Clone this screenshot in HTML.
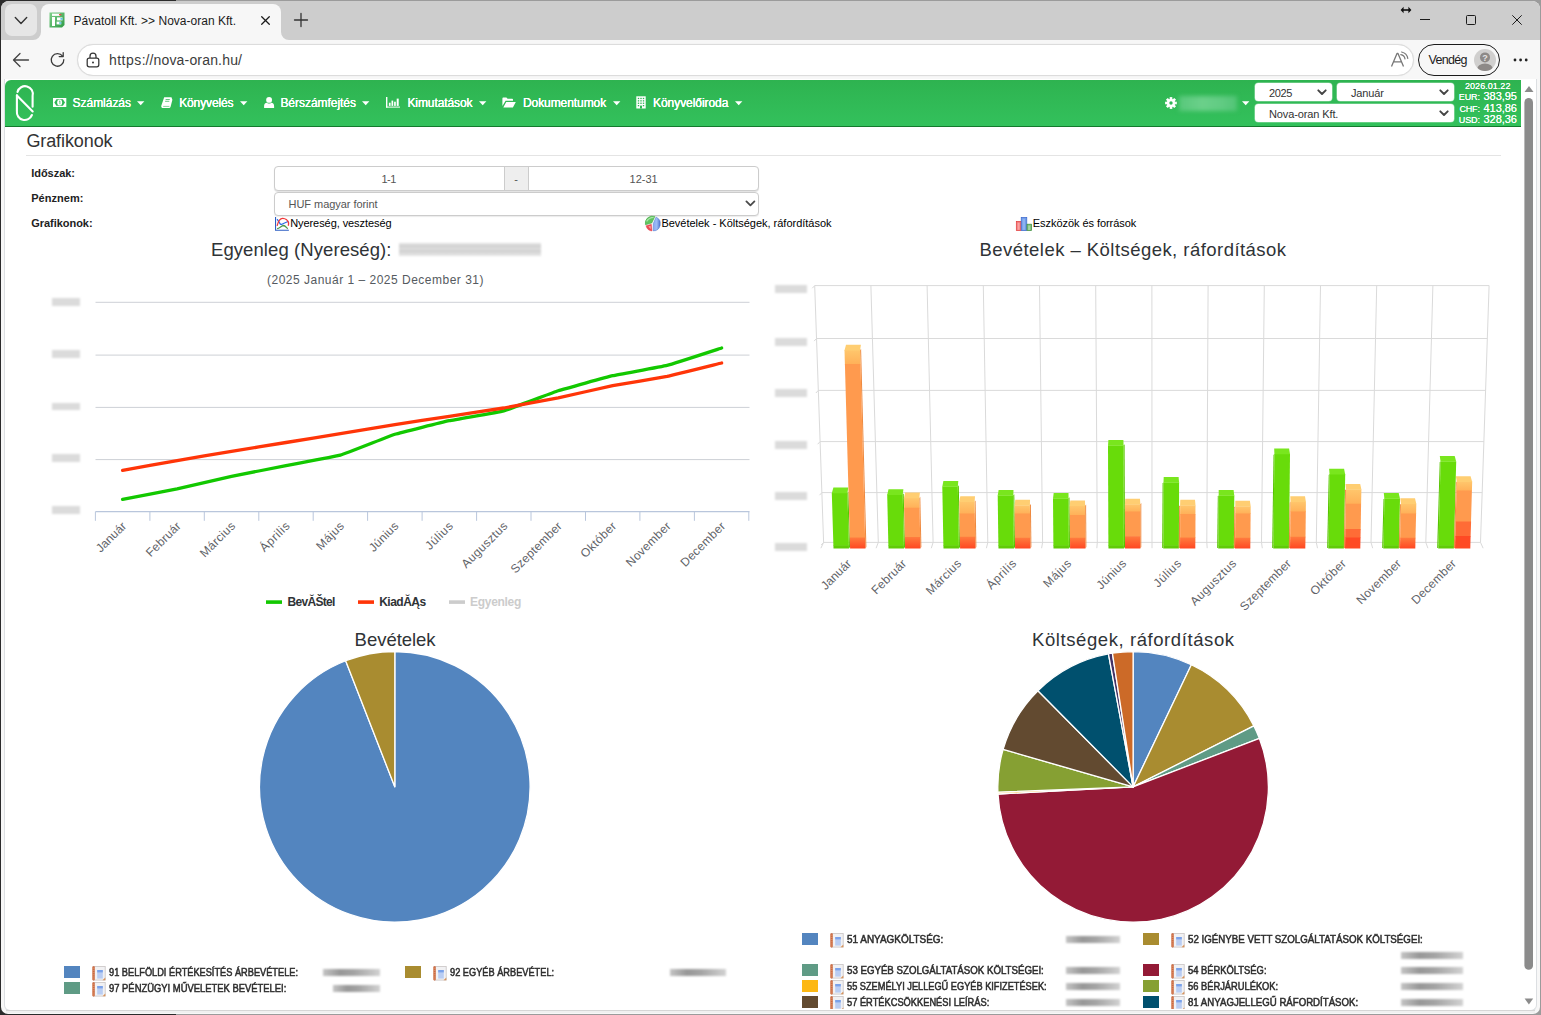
<!DOCTYPE html>
<html lang="hu"><head><meta charset="utf-8"><title>Pávatoll Kft. &gt;&gt; Nova-oran Kft.</title>
<style>
html,body{margin:0;padding:0;}
body{width:1541px;height:1015px;overflow:hidden;background:#fff;font-family:"Liberation Sans",sans-serif;position:relative;}
.abs{position:absolute;}
svg{position:absolute;overflow:visible;}
svg text{font-family:"Liberation Sans",sans-serif;}
.blur{position:absolute;filter:blur(1.2px);}
</style></head>
<body>
<!-- browser chrome -->
<div class="abs" style="left:0;top:0;width:1541px;height:1015px;background:#2b2b2b"></div>
<div class="abs" style="left:176px;top:0;width:1365px;height:1015px;background:#9b9b9b"></div>
<div class="abs" style="left:1px;top:1px;width:1539px;height:1013px;background:#f7f7f7;border-radius:8px 8px 7px 7px;overflow:hidden"><div class="abs" style="left:0;top:0;width:1539px;height:39px;background:#cdcdcd"></div></div>
<div class="abs" style="left:4px;top:79px;width:1533px;height:932px;background:#fff;border:1px solid #dcdfe2;border-top:none;border-radius:0 0 6px 6px;box-sizing:border-box"></div>
<div class="abs" style="left:6px;top:1010px;width:1529px;height:1px;background:#d6d6d6"></div>
<div class="abs" style="left:6px;top:1011px;width:1529px;height:2px;background:#f0f0f0"></div>
<div class="abs" style="left:5px;top:4px;width:32px;height:32px;background:#e6e6e6;border-radius:7px"></div>
<svg style="left:5px;top:4px" width="32" height="32"><path d="M10.3 13.6 L16 19.4 L21.7 13.6" fill="none" stroke="#333" stroke-width="1.4" stroke-linecap="round" stroke-linejoin="round"/></svg>
<div class="abs" style="left:41px;top:4px;width:240px;height:36px;background:#f7f7f7;border-radius:8px 8px 0 0"></div>
<svg style="left:33px;top:32px" width="8" height="8"><path d="M8 0 V8 H0 A8 8 0 0 0 8 0Z" fill="#f7f7f7"/></svg>
<svg style="left:281px;top:32px" width="8" height="8"><path d="M0 0 V8 H8 A8 8 0 0 1 0 0Z" fill="#f7f7f7"/></svg>
<svg style="left:49px;top:12px" width="16" height="16" viewBox="0 0 16 16"><defs><linearGradient id="fg" x1="0" y1="0" x2="1" y2="1"><stop offset="0" stop-color="#7fd08a"/><stop offset="1" stop-color="#2e9a45"/></linearGradient></defs><path d="M0.5 0.5 H15.5 V13 L13 15.5 H0.5Z" fill="url(#fg)"/><rect x="3" y="1.6" width="8" height="2.3" fill="#fff"/><rect x="3" y="5" width="3" height="9" fill="#fff"/><rect x="8" y="5.4" width="5.5" height="3" fill="#fff"/><rect x="7.6" y="9.6" width="4.6" height="2.8" fill="#fff"/><rect x="10" y="2" width="2.4" height="1.4" fill="#e0524a"/><rect x="11.4" y="6.2" width="2.2" height="1.4" fill="#3bb0e0"/><rect x="10.2" y="10.3" width="2.2" height="1.4" fill="#3bb0e0"/></svg>
<span style="position:absolute;white-space:pre;left:73.50px;top:14.94px;font-size:12px;line-height:12px;font-weight:400;color:#1b1b1b;letter-spacing:0.014px;">Pávatoll Kft. &gt;&gt; Nova-oran Kft.</span>
<svg style="left:259.5px;top:14.6px" width="11" height="11"><path d="M1.7 1.7 L9.3 9.3 M9.3 1.7 L1.7 9.3" stroke="#1b1b1b" stroke-width="1.25" stroke-linecap="round"/></svg>
<svg style="left:294px;top:13px" width="14" height="14"><path d="M7 0.5 V13.5 M0.5 7 H13.5" stroke="#333" stroke-width="1.3" stroke-linecap="round"/></svg>
<svg style="left:1400px;top:5px" width="12" height="10"><path d="M2.5 5 H9.5" stroke="#111" stroke-width="1.6"/><path d="M3.6 1.8 L0.6 5 L3.6 8.2Z M8.4 1.8 L11.4 5 L8.4 8.2Z" fill="#111"/></svg>
<div class="abs" style="left:1420px;top:19px;width:10px;height:1px;background:#1b1b1b"></div>
<div class="abs" style="left:1466px;top:15px;width:10px;height:10px;border:1px solid #1b1b1b;border-radius:1.5px;box-sizing:border-box"></div>
<svg style="left:1512px;top:15px" width="10" height="10"><path d="M0.3 0.3 L9.7 9.7 M9.7 0.3 L0.3 9.7" stroke="#1b1b1b" stroke-width="1"/></svg>
<svg style="left:12px;top:52px" width="18" height="16"><path d="M16.5 8 H1.8 M8 1.5 L1.5 8 L8 14.5" fill="none" stroke="#444" stroke-width="1.3" stroke-linecap="round" stroke-linejoin="round"/></svg>
<svg style="left:49px;top:51px" width="17" height="17"><path d="M13.6 5.2 A6.3 6.3 0 1 0 14.8 8.6" fill="none" stroke="#3a3a3a" stroke-width="1.3" stroke-linecap="round"/><path d="M14.2 1.6 V5.6 H10.2" fill="none" stroke="#3a3a3a" stroke-width="1.3" stroke-linecap="round" stroke-linejoin="round"/></svg>
<div class="abs" style="left:77px;top:44px;width:1337px;height:32px;background:#fff;border:1px solid #dcdcdc;border-radius:16px;box-sizing:border-box;box-shadow:0 0 1px rgba(0,0,0,.12)"></div>
<svg style="left:86px;top:52px" width="14" height="16"><rect x="1.2" y="6.2" width="11.6" height="8.6" rx="2" fill="none" stroke="#333" stroke-width="1.25"/><path d="M4 6 V4.2 A3 3 0 0 1 10 4.2 V6" fill="none" stroke="#333" stroke-width="1.25"/><circle cx="7" cy="10.5" r="1" fill="#333"/></svg>
<span style="position:absolute;white-space:pre;left:109.00px;top:53.15px;font-size:14px;line-height:14px;font-weight:400;color:#3c3c3c;letter-spacing:0.470px;">https:</span>
<span style="position:absolute;white-space:pre;left:145.60px;top:53.15px;font-size:14px;line-height:14px;font-weight:400;color:#3c3c3c;letter-spacing:0.119px;">//</span>
<span style="position:absolute;white-space:pre;left:153.50px;top:53.15px;font-size:14px;line-height:14px;font-weight:400;color:#3c3c3c;letter-spacing:0.174px;">nova-oran.hu/</span>
<svg style="left:1390px;top:50px" width="20" height="20"><path d="M1.5 16.5 L7 3.5 H8 L13.5 16.5 M3.6 11.8 H11.4" fill="none" stroke="#777" stroke-width="1.3" stroke-linejoin="round"/><path d="M10.8 4.6 A5 5 0 0 1 15 8.8 M11.6 2 A8 8 0 0 1 17.8 8.4" fill="none" stroke="#777" stroke-width="1.2" stroke-linecap="round"/></svg>
<div class="abs" style="left:1418px;top:44px;width:82px;height:32px;border:1.6px solid #1b1b1b;border-radius:16px;box-sizing:border-box;background:#f7f7f7"></div>
<span style="position:absolute;white-space:pre;left:1428.50px;top:53.92px;font-size:12.5px;line-height:12.5px;font-weight:400;color:#1b1b1b;letter-spacing:-0.684px;">Vendég</span>
<svg style="left:1474px;top:49px" width="22" height="22"><defs><clipPath id="av"><circle cx="11" cy="11" r="11"/></clipPath></defs><circle cx="11" cy="11" r="11" fill="#d0cfce"/><g clip-path="url(#av)"><circle cx="11" cy="8.4" r="5" fill="#8d8987"/><ellipse cx="11" cy="21" rx="8.2" ry="6.6" fill="#8d8987"/></g><text x="11" y="12" font-size="9" font-weight="700" text-anchor="middle" fill="#e4e3e2">?</text></svg>
<svg style="left:1513px;top:58px" width="16" height="4"><circle cx="2" cy="2" r="1.4" fill="#222"/><circle cx="7.6" cy="2" r="1.4" fill="#222"/><circle cx="13.2" cy="2" r="1.4" fill="#222"/></svg>
<svg style="left:1521px;top:80px" width="16" height="930"><path d="M3.5 9.5 L8 3.5 L12.5 9.5Z" fill="#8b8b8b" transform="translate(0,2.4)"/><rect x="3.4" y="18.1" width="8.6" height="871.6" rx="4.3" fill="#8b8b8b"/><path d="M3.6 918.5 L12.2 918.5 L7.9 924.5Z" fill="#8b8b8b"/></svg>
<!-- navbar -->
<div class="abs" style="left:5px;top:80px;width:1516px;height:47px;box-sizing:border-box;background:linear-gradient(#2eb350,#33c15c);border-bottom:1.5px solid #137a2d;border-radius:6px 0 0 0"></div>
<svg style="left:0;top:0" width="60" height="130"><g fill="none" stroke="#fff" stroke-width="2.1" stroke-linecap="round"><path d="M17.5 92 A7.8 7.8 0 0 1 32.6 96 V106.8"/><path d="M16.9 95.4 L32.7 111.4"/><path d="M16.9 95.4 V111.2 A7.8 7.8 0 0 0 31.9 115"/></g></svg>
<svg style="left:52.6px;top:98px" width="14" height="9" viewBox="0 0 14 9"><rect x="0" y="0" width="13.3" height="9" fill="#fff"/><path d="M1.3 4.5 L3.4 1.3 H9.9 L12 4.5 L9.9 7.7 H3.4Z" fill="#2fb755"/><ellipse cx="6.65" cy="4.5" rx="2.5" ry="3" fill="#fff"/><path d="M6.1 3.4 L6.9 2.9 V6.2" stroke="#2fb755" stroke-width="0.75" fill="none"/></svg>
<span style="position:absolute;white-space:pre;left:72.60px;top:97.24px;font-size:12px;line-height:12px;font-weight:400;color:#fff;letter-spacing:-0.036px;text-shadow:0 0 0.6px #fff,0 0 0.6px #fff;">Számlázás</span>
<svg style="left:136.6px;top:101px" width="8" height="5"><path d="M0 0.2 H7.4 L3.7 4.2Z" fill="#fff"/></svg>
<svg style="left:160.6px;top:97px" width="12" height="11" viewBox="0 0 12 11"><path d="M3.2 0.2 H10.2 Q10.9 0.2 10.7 1 L11.4 2.8 L9.6 9.8 Q9.4 10.9 8.4 10.9 H1.2 Q-0.2 10.4 0.3 8.8 Z" fill="#fff"/><path d="M4.6 2.5 H8.8 M4.1 4.3 H8.3" stroke="#2fb755" stroke-width="0.75"/><path d="M2.2 9.4 H8.4" stroke="#2fb755" stroke-width="0.6"/></svg>
<span style="position:absolute;white-space:pre;left:179.20px;top:97.24px;font-size:12px;line-height:12px;font-weight:400;color:#fff;letter-spacing:-0.122px;text-shadow:0 0 0.6px #fff,0 0 0.6px #fff;">Könyvelés</span>
<svg style="left:239.6px;top:101px" width="8" height="5"><path d="M0 0.2 H7.4 L3.7 4.2Z" fill="#fff"/></svg>
<svg style="left:264px;top:97px" width="11" height="11" viewBox="0 0 11 11"><circle cx="5.1" cy="2.9" r="2.95" fill="#fff"/><path d="M0.1 10.9 V8.9 C0.1 6.6 1.5 5.9 2.9 5.7 C4.3 6.9 5.9 6.9 7.3 5.7 C8.7 5.9 10.1 6.6 10.1 8.9 V10.9Z" fill="#fff"/></svg>
<span style="position:absolute;white-space:pre;left:280.40px;top:97.24px;font-size:12px;line-height:12px;font-weight:400;color:#fff;letter-spacing:-0.036px;text-shadow:0 0 0.6px #fff,0 0 0.6px #fff;">Bérszámfejtés</span>
<svg style="left:362px;top:101px" width="8" height="5"><path d="M0 0.2 H7.4 L3.7 4.2Z" fill="#fff"/></svg>
<svg style="left:386px;top:97.3px" width="14" height="11" viewBox="0 0 14 11"><rect x="0" y="0" width="1.4" height="10.6" fill="#fff"/><rect x="0" y="9.6" width="14" height="1" fill="#fff"/><rect x="2.9" y="5.7" width="1.7" height="3.2" fill="#fff"/><rect x="5.5" y="3.6" width="1.7" height="5.3" fill="#fff"/><rect x="8.1" y="4.7" width="1.7" height="4.2" fill="#fff"/><rect x="10.7" y="1.6" width="2" height="7.3" fill="#fff"/></svg>
<span style="position:absolute;white-space:pre;left:407.40px;top:97.24px;font-size:12px;line-height:12px;font-weight:400;color:#fff;letter-spacing:-0.083px;text-shadow:0 0 0.6px #fff,0 0 0.6px #fff;">Kimutatások</span>
<svg style="left:478.6px;top:101px" width="8" height="5"><path d="M0 0.2 H7.4 L3.7 4.2Z" fill="#fff"/></svg>
<svg style="left:502px;top:97px" width="14" height="11" viewBox="0 0 14 11"><path d="M0.4 9 V1.4 Q0.4 0.5 1.3 0.5 H4.4 L5.6 1.8 H10.2 Q11 1.8 11 2.7 V3.8 H3.6 L0.4 9Z" fill="#fff"/><path d="M1.3 10.4 L4.2 4.9 H13.8 L10.9 10.4Z" fill="#fff"/></svg>
<span style="position:absolute;white-space:pre;left:523.00px;top:97.24px;font-size:12px;line-height:12px;font-weight:400;color:#fff;letter-spacing:-0.077px;text-shadow:0 0 0.6px #fff,0 0 0.6px #fff;">Dokumentumok</span>
<svg style="left:612.6px;top:101px" width="8" height="5"><path d="M0 0.2 H7.4 L3.7 4.2Z" fill="#fff"/></svg>
<svg style="left:636px;top:96px" width="10" height="13" viewBox="0 0 10 13"><rect x="0.3" y="0.3" width="9.4" height="12.2" fill="#fff"/><g fill="#2fb755"><rect x="1.8" y="1.8" width="1.4" height="1.3"/><rect x="4.3" y="1.8" width="1.4" height="1.3"/><rect x="6.8" y="1.8" width="1.4" height="1.3"/><rect x="1.8" y="4.2" width="1.4" height="1.3"/><rect x="4.3" y="4.2" width="1.4" height="1.3"/><rect x="6.8" y="4.2" width="1.4" height="1.3"/><rect x="1.8" y="6.6" width="1.4" height="1.3"/><rect x="4.3" y="6.6" width="1.4" height="1.3"/><rect x="6.8" y="6.6" width="1.4" height="1.3"/><rect x="1.8" y="9" width="1.4" height="1.3"/><rect x="6.8" y="9" width="1.4" height="1.3"/><rect x="4" y="9.6" width="2" height="2.9"/></g></svg>
<span style="position:absolute;white-space:pre;left:653.00px;top:97.24px;font-size:12px;line-height:12px;font-weight:400;color:#fff;letter-spacing:-0.055px;text-shadow:0 0 0.6px #fff,0 0 0.6px #fff;">Könyvelőiroda</span>
<svg style="left:734.6px;top:101px" width="8" height="5"><path d="M0 0.2 H7.4 L3.7 4.2Z" fill="#fff"/></svg>
<svg style="left:1165px;top:97px" width="12" height="12" viewBox="0 0 12 12"><g transform="translate(6,6)"><g fill="#fff"><rect x="-1.3" y="-5.9" width="2.6" height="3" transform="rotate(0)"/><rect x="-1.3" y="-5.9" width="2.6" height="3" transform="rotate(45)"/><rect x="-1.3" y="-5.9" width="2.6" height="3" transform="rotate(90)"/><rect x="-1.3" y="-5.9" width="2.6" height="3" transform="rotate(135)"/><rect x="-1.3" y="-5.9" width="2.6" height="3" transform="rotate(180)"/><rect x="-1.3" y="-5.9" width="2.6" height="3" transform="rotate(225)"/><rect x="-1.3" y="-5.9" width="2.6" height="3" transform="rotate(270)"/><rect x="-1.3" y="-5.9" width="2.6" height="3" transform="rotate(315)"/><circle r="4.1"/></g><circle r="1.7" fill="#2fb755"/></g></svg>
<div class="blur" style="left:1179px;top:95.5px;width:58px;height:15px;background:linear-gradient(90deg,#58c87b,#6bd08a 40%,#60cb82 75%,#52c476);filter:blur(2.2px)"></div>
<svg style="left:1241.5px;top:101px" width="8" height="5"><path d="M0 0.2 H7.4 L3.7 4.2Z" fill="#fff"/></svg>
<div class="abs" style="left:1254.5px;top:83.4px;width:77.5px;height:17.2px;background:#fff;border-radius:3.5px;box-shadow:0 0 0 0.6px rgba(255,255,255,.5)"></div><svg style="left:1317.4px;top:89.1px" width="10" height="7"><path d="M1.3 1.3 L5 5 L8.7 1.3" fill="none" stroke="#444" stroke-width="1.9" stroke-linecap="round" stroke-linejoin="round"/></svg>
<span style="position:absolute;white-space:pre;left:1269.00px;top:87.99px;font-size:11px;line-height:11px;font-weight:400;color:#333;letter-spacing:-0.361px;">2025</span>
<div class="abs" style="left:1336.5px;top:83.4px;width:117px;height:17.2px;background:#fff;border-radius:3.5px;box-shadow:0 0 0 0.6px rgba(255,255,255,.5)"></div><svg style="left:1438.9px;top:89.1px" width="10" height="7"><path d="M1.3 1.3 L5 5 L8.7 1.3" fill="none" stroke="#444" stroke-width="1.9" stroke-linecap="round" stroke-linejoin="round"/></svg>
<span style="position:absolute;white-space:pre;left:1351.00px;top:87.99px;font-size:11px;line-height:11px;font-weight:400;color:#333;letter-spacing:-0.128px;">Január</span>
<div class="abs" style="left:1254.5px;top:104.2px;width:199px;height:17.6px;background:#fff;border-radius:3.5px;box-shadow:0 0 0 0.6px rgba(255,255,255,.5)"></div><svg style="left:1438.9px;top:110.1px" width="10" height="7"><path d="M1.3 1.3 L5 5 L8.7 1.3" fill="none" stroke="#444" stroke-width="1.9" stroke-linecap="round" stroke-linejoin="round"/></svg>
<span style="position:absolute;white-space:pre;left:1269.00px;top:109.09px;font-size:11px;line-height:11px;font-weight:400;color:#333;letter-spacing:-0.117px;">Nova-oran Kft.</span>
<span style="position:absolute;white-space:pre;left:1465.00px;top:81.88px;font-size:9px;line-height:9px;font-weight:400;color:#fff;letter-spacing:0.039px;text-shadow:0 0 0.6px #fff;">2026.01.22</span>
<span style="position:absolute;white-space:pre;left:1458.80px;top:92.88px;font-size:9px;line-height:9px;font-weight:400;color:#fff;letter-spacing:-0.105px;text-shadow:0 0 0.6px #fff;">EUR:</span>
<span style="position:absolute;white-space:pre;left:1483.50px;top:91.19px;font-size:11px;line-height:11px;font-weight:400;color:#fff;letter-spacing:-0.031px;text-shadow:0 0 0.6px #fff;">383,95</span>
<span style="position:absolute;white-space:pre;left:1459.40px;top:104.78px;font-size:9px;line-height:9px;font-weight:400;color:#fff;letter-spacing:-0.133px;text-shadow:0 0 0.6px #fff;">CHF:</span>
<span style="position:absolute;white-space:pre;left:1483.50px;top:103.09px;font-size:11px;line-height:11px;font-weight:400;color:#fff;letter-spacing:-0.031px;text-shadow:0 0 0.6px #fff;">413,86</span>
<span style="position:absolute;white-space:pre;left:1458.80px;top:115.88px;font-size:9px;line-height:9px;font-weight:400;color:#fff;letter-spacing:-0.105px;text-shadow:0 0 0.6px #fff;">USD:</span>
<span style="position:absolute;white-space:pre;left:1483.50px;top:114.19px;font-size:11px;line-height:11px;font-weight:400;color:#fff;letter-spacing:-0.031px;text-shadow:0 0 0.6px #fff;">328,36</span>
<!-- heading + form -->
<span style="position:absolute;white-space:pre;left:26.40px;top:132.16px;font-size:18px;line-height:18px;font-weight:400;color:#333;letter-spacing:-0.094px;">Grafikonok</span>
<div class="abs" style="left:26px;top:155px;width:1475px;height:1px;background:#e4e4e4"></div>
<span style="position:absolute;white-space:pre;left:31.20px;top:168.09px;font-size:11px;line-height:11px;font-weight:700;color:#222;letter-spacing:-0.031px;">Időszak:</span>
<span style="position:absolute;white-space:pre;left:31.20px;top:192.69px;font-size:11px;line-height:11px;font-weight:700;color:#222;letter-spacing:0.033px;">Pénznem:</span>
<span style="position:absolute;white-space:pre;left:31.20px;top:218.19px;font-size:11px;line-height:11px;font-weight:700;color:#222;letter-spacing:-0.033px;">Grafikonok:</span>
<div class="abs" style="left:274px;top:166px;width:485px;height:25px;box-sizing:border-box;border:1px solid #ccc;border-radius:4px;background:#fff;box-shadow:0 1px 1px rgba(0,0,0,.12)"></div>
<div class="abs" style="left:503.5px;top:167px;width:25px;height:23px;box-sizing:border-box;background:#eee;border-left:1px solid #ccc;border-right:1px solid #ccc"></div>
<span style="position:absolute;white-space:pre;left:381.40px;top:174.29px;font-size:11px;line-height:11px;font-weight:400;color:#555;letter-spacing:-0.453px;">1-1</span>
<span style="position:absolute;white-space:pre;left:514.20px;top:174.29px;font-size:11px;line-height:11px;font-weight:400;color:#555;">-</span>
<span style="position:absolute;white-space:pre;left:629.60px;top:174.29px;font-size:11px;line-height:11px;font-weight:400;color:#555;letter-spacing:-0.035px;">12-31</span>
<div class="abs" style="left:274px;top:192px;width:485px;height:24px;box-sizing:border-box;border:1px solid #ccc;border-radius:4px;background:#fff;box-shadow:0 1px 1px rgba(0,0,0,.08)"></div>
<svg style="left:745px;top:199.6px" width="11" height="8"><path d="M1.4 1.4 L5.4 5.4 L9.4 1.4" fill="none" stroke="#4a4a4a" stroke-width="1.8" stroke-linecap="round" stroke-linejoin="round"/></svg>
<span style="position:absolute;white-space:pre;left:288.60px;top:199.09px;font-size:11px;line-height:11px;font-weight:400;color:#555;letter-spacing:-0.054px;">HUF magyar forint</span>
<svg style="left:275px;top:217px" width="15" height="14" viewBox="0 0 15 14"><path d="M0.55 0 V13.3 H13.9" fill="none" stroke="#2e5fc4" stroke-width="1.1"/><path d="M2.1 2.1 L5.4 7.2 Q6.3 7.8 7.4 7 L13.5 4.3" fill="none" stroke="#2f6ee6" stroke-width="1.2"/><path d="M2.1 8.8 C3.5 3 6 1.2 7.8 1.3 C10 1.4 13 3 13.6 6 L13.4 8.8" fill="none" stroke="#f0383a" stroke-width="1.3"/><path d="M2.1 11.7 C4.5 11.5 6.5 8.6 8.4 8.5 C10.3 8.6 11.2 10.5 12.7 11.7" fill="none" stroke="#4e9a4a" stroke-width="1.3"/></svg>
<span style="position:absolute;white-space:pre;left:290.20px;top:217.79px;font-size:11px;line-height:11px;font-weight:400;color:#000;letter-spacing:-0.073px;">Nyereség, veszteség</span>
<svg style="left:645px;top:216px" width="16" height="16" viewBox="0 0 16 16"><defs><linearGradient id="pb" x1="0" y1="0" x2="1" y2="0"><stop offset="0" stop-color="#86aaf2"/><stop offset="0.5" stop-color="#9cbcf6"/><stop offset="1" stop-color="#4a70cc"/></linearGradient></defs><path d="M6.8 7 L0.4 8.8 A7.2 7.2 0 0 1 9.9 0.5 Z" fill="#5fc45f" stroke="#3fa03f" stroke-width="0.5"/><path d="M1.6 5.4 Q4 1.6 8.6 1.4" stroke="#a8e4a8" stroke-width="1.3" fill="none"/><path d="M6.4 8.3 L7 15 A7 7 0 0 1 1 9.8 Z" fill="#ee4d55" stroke="#e03040" stroke-width="0.4"/><path d="M3.4 10.4 L5.6 9.8 L5.9 13.2Z" fill="#f7a0a4"/><path d="M8.2 7.7 L11 1.1 A7.2 7.2 0 0 1 8.2 14.9 Z" fill="url(#pb)" stroke="#4468c0" stroke-width="0.4"/></svg>
<span style="position:absolute;white-space:pre;left:661.40px;top:217.79px;font-size:11px;line-height:11px;font-weight:400;color:#000;letter-spacing:-0.012px;">Bevételek - Költségek, ráfordítások</span>
<svg style="left:1016px;top:217px" width="16" height="14" viewBox="0 0 16 14"><rect x="0.3" y="4.4" width="4.8" height="9.2" fill="#f47a7a" stroke="#e03c3c" stroke-width="0.7"/><rect x="5.2" y="0.4" width="5.6" height="13.2" fill="#6f9cea" stroke="#3a66cc" stroke-width="0.7"/><rect x="11" y="7.2" width="4.6" height="6.4" fill="#7fc07f" stroke="#3c8c3c" stroke-width="0.7"/><rect x="1.6" y="5.8" width="2" height="7" fill="#f9a3a3"/><rect x="6.6" y="1.8" width="2.4" height="11" fill="#8db2f0"/><rect x="12.2" y="8.6" width="2" height="4.4" fill="#a5d5a5"/></svg>
<span style="position:absolute;white-space:pre;left:1032.80px;top:217.59px;font-size:11px;line-height:11px;font-weight:400;color:#000;letter-spacing:-0.060px;">Eszközök és források</span>
<!-- line chart -->
<svg style="left:0;top:235px" width="770" height="385" viewBox="0 235 770 385">
<text x="211" y="256" font-size="18.5" fill="#2f3336" textLength="180.5" lengthAdjust="spacing">Egyenleg (Nyereség):</text>
<text x="267" y="284" font-size="12" fill="#555a60" textLength="216.5" lengthAdjust="spacing">(2025 Január 1 – 2025 December 31)</text>
<path d="M95.5 302.3 H749.5" stroke="#cdd0d6" stroke-width="1" fill="none"/>
<path d="M95.5 355.1 H749.5" stroke="#cdd0d6" stroke-width="1" fill="none"/>
<path d="M95.5 407.4 H749.5" stroke="#cdd0d6" stroke-width="1" fill="none"/>
<path d="M95.5 459.6 H749.5" stroke="#cdd0d6" stroke-width="1" fill="none"/>
<path d="M95.5 511.6 H749.5" stroke="#b9c6dc" stroke-width="1.1" fill="none"/>
<path d="M95.4 511.6 V520.8" stroke="#b9c6dc" stroke-width="1" fill="none"/>
<path d="M149.9 511.6 V520.8" stroke="#b9c6dc" stroke-width="1" fill="none"/>
<path d="M204.3 511.6 V520.8" stroke="#b9c6dc" stroke-width="1" fill="none"/>
<path d="M258.8 511.6 V520.8" stroke="#b9c6dc" stroke-width="1" fill="none"/>
<path d="M313.2 511.6 V520.8" stroke="#b9c6dc" stroke-width="1" fill="none"/>
<path d="M367.6 511.6 V520.8" stroke="#b9c6dc" stroke-width="1" fill="none"/>
<path d="M422.1 511.6 V520.8" stroke="#b9c6dc" stroke-width="1" fill="none"/>
<path d="M476.6 511.6 V520.8" stroke="#b9c6dc" stroke-width="1" fill="none"/>
<path d="M531.0 511.6 V520.8" stroke="#b9c6dc" stroke-width="1" fill="none"/>
<path d="M585.5 511.6 V520.8" stroke="#b9c6dc" stroke-width="1" fill="none"/>
<path d="M639.9 511.6 V520.8" stroke="#b9c6dc" stroke-width="1" fill="none"/>
<path d="M694.4 511.6 V520.8" stroke="#b9c6dc" stroke-width="1" fill="none"/>
<path d="M748.8 511.6 V520.8" stroke="#b9c6dc" stroke-width="1" fill="none"/>
<path d="M122.6 499.4 C125.1 498.9 172.2 489.8 177.1 488.8 C182.0 487.8 226.6 477.4 231.5 476.4 C236.4 475.4 281.1 466.6 286.0 465.6 C290.9 464.6 335.5 456.6 340.4 455.2 C345.3 453.8 390.0 435.9 394.9 434.3 C399.8 432.7 444.4 421.8 449.3 420.7 C454.2 419.6 498.9 412.1 503.8 410.8 C508.7 409.5 553.3 392.4 558.2 390.8 C563.1 389.2 607.8 376.8 612.7 375.7 C617.6 374.6 662.2 366.6 667.1 365.4 C672.0 364.2 719.1 348.8 721.6 348.0" fill="none" stroke="#12c800" stroke-width="3.3" stroke-linejoin="round" stroke-linecap="round"/>
<path d="M122.6 470.4 C125.1 470.0 172.2 461.5 177.1 460.6 C182.0 459.7 226.6 452.2 231.5 451.4 C236.4 450.6 281.1 443.3 286.0 442.5 C290.9 441.7 335.5 434.4 340.4 433.6 C345.3 432.8 390.0 425.4 394.9 424.6 C399.8 423.8 444.4 417.0 449.3 416.3 C454.2 415.6 498.9 408.8 503.8 408.0 C508.7 407.2 553.3 398.8 558.2 397.8 C563.1 396.8 607.8 386.7 612.7 385.7 C617.6 384.7 662.2 377.4 667.1 376.4 C672.0 375.4 719.1 363.6 721.6 363.0" fill="none" stroke="#ff3508" stroke-width="3.3" stroke-linejoin="round" stroke-linecap="round"/>
<text transform="translate(127.0,526.8) rotate(-45)" x="-37.2" y="0" font-size="12" fill="#5f6368" textLength="37.2" lengthAdjust="spacing">Január</text>
<text transform="translate(181.5,526.8) rotate(-45)" x="-43.5" y="0" font-size="12" fill="#5f6368" textLength="43.5" lengthAdjust="spacing">Február</text>
<text transform="translate(235.9,526.8) rotate(-45)" x="-44.1" y="0" font-size="12" fill="#5f6368" textLength="44.1" lengthAdjust="spacing">Március</text>
<text transform="translate(290.4,526.8) rotate(-45)" x="-36.5" y="0" font-size="12" fill="#5f6368" textLength="36.5" lengthAdjust="spacing">Április</text>
<text transform="translate(344.8,526.8) rotate(-45)" x="-33.8" y="0" font-size="12" fill="#5f6368" textLength="33.8" lengthAdjust="spacing">Május</text>
<text transform="translate(399.3,526.8) rotate(-45)" x="-36.3" y="0" font-size="12" fill="#5f6368" textLength="36.3" lengthAdjust="spacing">Június</text>
<text transform="translate(453.7,526.8) rotate(-45)" x="-33.4" y="0" font-size="12" fill="#5f6368" textLength="33.4" lengthAdjust="spacing">Július</text>
<text transform="translate(508.2,526.8) rotate(-45)" x="-59.3" y="0" font-size="12" fill="#5f6368" textLength="59.3" lengthAdjust="spacing">Augusztus</text>
<text transform="translate(562.6,526.8) rotate(-45)" x="-66.6" y="0" font-size="12" fill="#5f6368" textLength="66.6" lengthAdjust="spacing">Szeptember</text>
<text transform="translate(617.1,526.8) rotate(-45)" x="-45.0" y="0" font-size="12" fill="#5f6368" textLength="45" lengthAdjust="spacing">Október</text>
<text transform="translate(671.5,526.8) rotate(-45)" x="-57.5" y="0" font-size="12" fill="#5f6368" textLength="57.5" lengthAdjust="spacing">November</text>
<text transform="translate(726.0,526.8) rotate(-45)" x="-57.5" y="0" font-size="12" fill="#5f6368" textLength="57.5" lengthAdjust="spacing">December</text>
<path d="M266 602.1 H282" stroke="#12c800" stroke-width="3.6"/>
<text x="287.4" y="605.9" font-size="12" font-weight="700" fill="#2f3336" textLength="48">BevĂŠtel</text>
<path d="M358 602.1 H374" stroke="#ff3508" stroke-width="3.6"/>
<text x="379.2" y="605.9" font-size="12" font-weight="700" fill="#2f3336" textLength="47">KiadĂĄs</text>
<path d="M449 602.1 H465" stroke="#ccc" stroke-width="3.6"/>
<text x="470.1" y="605.9" font-size="12" font-weight="700" fill="#ccc" textLength="51.2">Egyenleg</text>
</svg>
<div class="blur" style="left:399px;top:243px;width:142px;height:13px;background:linear-gradient(180deg,#e4e4e4,#d0d0d0 28%,#e0e0e0 45%,#cecece 62%,#dedede 80%,#e6e6e6);filter:blur(0.9px)"></div>
<div class="blur" style="left:52px;top:298.4px;width:28px;height:7.5px;background:#dbdbdb;filter:blur(1.1px)"></div>
<div class="blur" style="left:52px;top:350.4px;width:28px;height:7.5px;background:#dbdbdb;filter:blur(1.1px)"></div>
<div class="blur" style="left:52px;top:402.5px;width:28px;height:7.5px;background:#dbdbdb;filter:blur(1.1px)"></div>
<div class="blur" style="left:52px;top:454.3px;width:28px;height:7.5px;background:#dbdbdb;filter:blur(1.1px)"></div>
<div class="blur" style="left:52px;top:506px;width:28px;height:7.5px;background:#dbdbdb;filter:blur(1.1px)"></div>
<!-- 3d column chart -->
<svg style="left:770px;top:235px" width="751" height="385" viewBox="770 235 751 385">
<defs><linearGradient id="ogr" x1="0" y1="0" x2="0" y2="1"><stop offset="0" stop-color="#ff7c3e"/><stop offset="1" stop-color="#ff4722"/></linearGradient><linearGradient id="ogy" x1="0" y1="0" x2="0" y2="1"><stop offset="0" stop-color="#ffc66c"/><stop offset="1" stop-color="#ffb058"/></linearGradient></defs>
<text x="979.5" y="256" font-size="18.5" fill="#2f3336" textLength="306.5" lengthAdjust="spacing">Bevételek – Költségek, ráfordítások</text>
<path d="M814.7 285.6 L1489.1 285.6 L1480.5 542.4 L823.6 542.4 Z" fill="#fff" stroke="none"/>
<path d="M814.7 285.6 L1489.1 285.6 M814.7 285.6 l-2.4 2.6 M816.5 338.5 L1487.3 338.5 M816.5 338.5 l-2.4 2.6 M818.3 390.4 L1485.6 390.4 M818.3 390.4 l-2.4 2.6 M820.1 441.6 L1483.9 441.6 M820.1 441.6 l-2.4 2.6 M821.9 492.6 L1482.2 492.6 M821.9 492.6 l-2.4 2.6 M823.6 542.4 L1480.5 542.4 M823.6 542.4 l-2.4 2.6 M814.7 285.6 L823.6 542.4 L820.9 548.2 M870.9 285.6 L878.3 542.4 L876.1 548.2 M927.1 285.6 L933.1 542.4 L931.3 548.2 M983.3 285.6 L987.8 542.4 L986.4 548.2 M1039.5 285.6 L1042.6 542.4 L1041.6 548.2 M1095.7 285.6 L1097.3 542.4 L1096.8 548.2 M1151.9 285.6 L1152.0 542.4 L1152.0 548.2 M1208.1 285.6 L1206.8 542.4 L1207.2 548.2 M1264.3 285.6 L1261.5 542.4 L1262.3 548.2 M1320.5 285.6 L1316.3 542.4 L1317.5 548.2 M1376.7 285.6 L1371.0 542.4 L1372.7 548.2 M1432.9 285.6 L1425.8 542.4 L1427.9 548.2 M1489.1 285.6 L1480.5 542.4 L1483.1 548.2" fill="none" stroke="#dadada" stroke-width="1"/>
<path d="M847.4 492.9 L848.4 491.7 L850.0 547.1 L849.0 548.5Z" fill="#57c400"/><path d="M831.8 492.9 L847.4 492.9 L848.9 545.8 L833.4 545.8Z" fill="#68dc0a"/><path d="M833.4 545.3 L848.9 545.3 L849.0 548.5 L833.5 548.5Z" fill="#5fcc06"/><path d="M831.8 493.2 L847.4 493.2 L848.3 487.5 L833.4 487.5Z" fill="#79e61e"/>
<path d="M860.1 350.1 L861.1 348.9 L866.4 547.1 L865.4 548.5Z" fill="#ee8a40"/><path d="M844.5 350.1 L860.1 350.1 L860.5 364.5 L844.9 364.5Z" fill="url(#ogy)"/><path d="M844.9 364.0 L860.5 364.0 L865.1 538.0 L849.8 538.0Z" fill="#ff9a4e"/><path d="M849.8 537.5 L865.1 537.5 L865.4 548.5 L850.1 548.5Z" fill="url(#ogr)"/><path d="M844.5 350.4 L860.1 350.4 L860.9 344.7 L846.0 344.7Z" fill="#ffce72"/>
<path d="M902.7 494.6 L903.7 493.4 L905.0 547.1 L904.0 548.5Z" fill="#57c400"/><path d="M887.2 494.6 L902.7 494.6 L903.9 545.8 L888.4 545.8Z" fill="#68dc0a"/><path d="M888.4 545.3 L903.9 545.3 L904.0 548.5 L888.5 548.5Z" fill="#5fcc06"/><path d="M887.2 494.9 L902.7 494.9 L903.4 489.2 L888.5 489.2Z" fill="#79e61e"/>
<path d="M919.3 498.0 L920.3 496.8 L921.4 547.1 L920.4 548.5Z" fill="#ee8a40"/><path d="M903.9 498.0 L919.3 498.0 L919.5 508.2 L904.2 508.2Z" fill="url(#ogy)"/><path d="M904.1 507.7 L919.5 507.7 L920.2 537.5 L904.8 537.5Z" fill="#ff9a4e"/><path d="M904.8 537.0 L920.1 537.0 L920.4 548.5 L905.1 548.5Z" fill="url(#ogr)"/><path d="M903.9 498.3 L919.3 498.3 L919.9 492.6 L905.2 492.6Z" fill="#ffce72"/>
<path d="M957.8 486.4 L958.8 485.2 L960.0 547.1 L959.0 548.5Z" fill="#57c400"/><path d="M942.3 486.4 L957.8 486.4 L958.9 545.8 L943.4 545.8Z" fill="#68dc0a"/><path d="M943.4 545.3 L958.9 545.3 L959.0 548.5 L943.5 548.5Z" fill="#5fcc06"/><path d="M942.3 486.7 L957.8 486.7 L958.3 481.0 L943.4 481.0Z" fill="#79e61e"/>
<path d="M974.6 501.7 L975.6 500.5 L976.4 547.1 L975.4 548.5Z" fill="#ee8a40"/><path d="M959.2 501.7 L974.6 501.7 L974.8 513.9 L959.5 513.9Z" fill="url(#ogy)"/><path d="M959.4 513.4 L974.8 513.4 L975.2 537.3 L959.9 537.3Z" fill="#ff9a4e"/><path d="M959.9 536.8 L975.2 536.8 L975.4 548.5 L960.1 548.5Z" fill="url(#ogr)"/><path d="M959.2 502.0 L974.6 502.0 L975.0 496.3 L960.3 496.3Z" fill="#ffce72"/>
<path d="M1013.3 495.4 L1014.3 494.2 L1015.0 547.1 L1014.0 548.5Z" fill="#57c400"/><path d="M997.7 495.4 L1013.3 495.4 L1013.9 545.8 L998.4 545.8Z" fill="#68dc0a"/><path d="M998.4 545.3 L1013.9 545.3 L1014.0 548.5 L998.5 548.5Z" fill="#5fcc06"/><path d="M997.7 495.7 L1013.3 495.7 L1013.5 490.0 L998.6 490.0Z" fill="#79e61e"/>
<path d="M1029.9 505.2 L1030.9 504.0 L1031.4 547.1 L1030.4 548.5Z" fill="#ee8a40"/><path d="M1014.5 505.2 L1029.9 505.2 L1030.0 513.9 L1014.6 513.9Z" fill="url(#ogy)"/><path d="M1014.6 513.4 L1030.0 513.4 L1030.2 538.3 L1014.9 538.3Z" fill="#ff9a4e"/><path d="M1014.9 537.8 L1030.2 537.8 L1030.4 548.5 L1015.1 548.5Z" fill="url(#ogr)"/><path d="M1014.5 505.5 L1029.9 505.5 L1030.0 499.8 L1015.3 499.8Z" fill="#ffce72"/>
<path d="M1068.5 498.4 L1069.5 497.2 L1070.0 547.1 L1069.0 548.5Z" fill="#57c400"/><path d="M1053.0 498.4 L1068.5 498.4 L1068.9 545.8 L1053.4 545.8Z" fill="#68dc0a"/><path d="M1053.4 545.3 L1068.9 545.3 L1069.0 548.5 L1053.5 548.5Z" fill="#5fcc06"/><path d="M1053.0 498.7 L1068.5 498.7 L1068.5 493.0 L1053.7 493.0Z" fill="#79e61e"/>
<path d="M1085.1 505.8 L1086.1 504.6 L1086.4 547.1 L1085.4 548.5Z" fill="#ee8a40"/><path d="M1069.7 505.8 L1085.1 505.8 L1085.1 515.5 L1069.8 515.5Z" fill="url(#ogy)"/><path d="M1069.8 515.0 L1085.1 515.0 L1085.3 538.3 L1070.0 538.3Z" fill="#ff9a4e"/><path d="M1070.0 537.8 L1085.3 537.8 L1085.4 548.5 L1070.1 548.5Z" fill="url(#ogr)"/><path d="M1069.7 506.1 L1085.1 506.1 L1085.0 500.4 L1070.3 500.4Z" fill="#ffce72"/>
<path d="M1123.6 445.4 L1124.6 444.2 L1125.0 547.1 L1124.0 548.5Z" fill="#57c400"/><path d="M1108.0 445.4 L1123.6 445.4 L1123.9 545.8 L1108.4 545.8Z" fill="#68dc0a"/><path d="M1108.4 545.3 L1123.9 545.3 L1124.0 548.5 L1108.5 548.5Z" fill="#5fcc06"/><path d="M1108.0 445.7 L1123.6 445.7 L1123.4 440.0 L1108.4 440.0Z" fill="#79e61e"/>
<path d="M1140.3 504.2 L1141.3 503.0 L1141.3 547.1 L1140.3 548.5Z" fill="#ee8a40"/><path d="M1124.9 504.2 L1140.3 504.2 L1140.3 512.0 L1124.9 512.0Z" fill="url(#ogy)"/><path d="M1124.9 511.5 L1140.3 511.5 L1140.3 536.7 L1125.0 536.7Z" fill="#ff9a4e"/><path d="M1125.0 536.2 L1140.3 536.2 L1140.3 548.5 L1125.0 548.5Z" fill="url(#ogr)"/><path d="M1124.9 504.5 L1140.3 504.5 L1140.0 498.8 L1125.3 498.8Z" fill="#ffce72"/>
<path d="M1163.5 482.4 L1162.6 483.4 L1162.2 547.3 L1163.4 548.5Z" fill="#57c400"/><path d="M1163.5 482.4 L1179.1 482.4 L1178.9 545.8 L1163.4 545.8Z" fill="#68dc0a"/><path d="M1163.4 545.3 L1178.9 545.3 L1178.9 548.5 L1163.4 548.5Z" fill="#5fcc06"/><path d="M1163.5 482.7 L1179.1 482.7 L1178.6 477.0 L1163.7 477.0Z" fill="#79e61e"/>
<path d="M1180.1 505.2 L1179.2 506.2 L1178.8 547.3 L1180.0 548.5Z" fill="#ee8a40"/><path d="M1180.1 505.2 L1195.5 505.2 L1195.4 514.5 L1180.1 514.5Z" fill="url(#ogy)"/><path d="M1180.1 514.0 L1195.5 514.0 L1195.4 537.9 L1180.1 537.9Z" fill="#ff9a4e"/><path d="M1180.1 537.4 L1195.4 537.4 L1195.3 548.5 L1180.0 548.5Z" fill="url(#ogr)"/><path d="M1180.1 505.5 L1195.5 505.5 L1195.0 499.8 L1180.3 499.8Z" fill="#ffce72"/>
<path d="M1218.7 495.4 L1217.8 496.4 L1217.2 547.3 L1218.4 548.5Z" fill="#57c400"/><path d="M1218.7 495.4 L1234.3 495.4 L1233.9 545.8 L1218.4 545.8Z" fill="#68dc0a"/><path d="M1218.4 545.3 L1234.0 545.3 L1233.9 548.5 L1218.4 548.5Z" fill="#5fcc06"/><path d="M1218.7 495.7 L1234.3 495.7 L1233.6 490.0 L1218.7 490.0Z" fill="#79e61e"/>
<path d="M1235.3 506.2 L1234.4 507.2 L1233.8 547.3 L1235.0 548.5Z" fill="#ee8a40"/><path d="M1235.3 506.2 L1250.7 506.2 L1250.6 513.9 L1235.3 513.9Z" fill="url(#ogy)"/><path d="M1235.3 513.4 L1250.6 513.4 L1250.4 538.3 L1235.1 538.3Z" fill="#ff9a4e"/><path d="M1235.1 537.8 L1250.4 537.8 L1250.3 548.5 L1235.0 548.5Z" fill="url(#ogr)"/><path d="M1235.3 506.5 L1250.7 506.5 L1249.9 500.8 L1235.3 500.8Z" fill="#ffce72"/>
<path d="M1274.4 454.0 L1273.5 455.0 L1272.2 547.3 L1273.4 548.5Z" fill="#57c400"/><path d="M1274.4 454.0 L1290.0 454.0 L1289.0 545.8 L1273.4 545.8Z" fill="#68dc0a"/><path d="M1273.5 545.3 L1289.0 545.3 L1288.9 548.5 L1273.4 548.5Z" fill="#5fcc06"/><path d="M1274.4 454.3 L1290.0 454.3 L1289.1 448.6 L1274.2 448.6Z" fill="#79e61e"/>
<path d="M1290.6 501.7 L1289.7 502.7 L1288.8 547.3 L1290.0 548.5Z" fill="#ee8a40"/><path d="M1290.6 501.7 L1305.9 501.7 L1305.8 512.0 L1290.5 512.0Z" fill="url(#ogy)"/><path d="M1290.5 511.5 L1305.8 511.5 L1305.5 537.3 L1290.2 537.3Z" fill="#ff9a4e"/><path d="M1290.2 536.8 L1305.5 536.8 L1305.3 548.5 L1290.0 548.5Z" fill="url(#ogr)"/><path d="M1290.6 502.0 L1305.9 502.0 L1305.0 496.3 L1290.3 496.3Z" fill="#ffce72"/>
<path d="M1329.6 474.1 L1328.7 475.1 L1327.2 547.3 L1328.4 548.5Z" fill="#57c400"/><path d="M1329.6 474.1 L1345.2 474.1 L1344.0 545.8 L1328.5 545.8Z" fill="#68dc0a"/><path d="M1328.5 545.3 L1344.0 545.3 L1343.9 548.5 L1328.4 548.5Z" fill="#5fcc06"/><path d="M1329.6 474.4 L1345.2 474.4 L1344.1 468.7 L1329.1 468.7Z" fill="#79e61e"/>
<path d="M1346.0 489.3 L1345.1 490.3 L1343.8 547.3 L1345.0 548.5Z" fill="#ee8a40"/><path d="M1346.0 489.3 L1361.4 489.3 L1361.1 504.2 L1345.8 504.2Z" fill="url(#ogy)"/><path d="M1345.8 503.7 L1361.1 503.7 L1360.7 529.5 L1345.3 529.5Z" fill="#ff9a4e"/><path d="M1345.3 529.0 L1360.7 529.0 L1360.5 538.0 L1345.2 538.0Z" fill="#ff6c36"/><path d="M1345.2 537.5 L1360.5 537.5 L1360.3 548.5 L1345.0 548.5Z" fill="#ff4a24"/><path d="M1346.0 489.6 L1361.4 489.6 L1360.2 483.9 L1345.5 483.9Z" fill="#ffce72"/>
<path d="M1384.4 498.4 L1383.5 499.4 L1382.2 547.3 L1383.4 548.5Z" fill="#57c400"/><path d="M1384.4 498.4 L1400.0 498.4 L1399.0 545.8 L1383.5 545.8Z" fill="#68dc0a"/><path d="M1383.5 545.3 L1399.0 545.3 L1398.9 548.5 L1383.4 548.5Z" fill="#5fcc06"/><path d="M1384.4 498.7 L1400.0 498.7 L1398.7 493.0 L1383.8 493.0Z" fill="#79e61e"/>
<path d="M1401.0 503.7 L1400.1 504.7 L1398.8 547.3 L1400.0 548.5Z" fill="#ee8a40"/><path d="M1401.0 503.7 L1416.3 503.7 L1416.1 513.9 L1400.8 513.9Z" fill="url(#ogy)"/><path d="M1400.8 513.4 L1416.1 513.4 L1415.5 538.3 L1400.2 538.3Z" fill="#ff9a4e"/><path d="M1400.2 537.8 L1415.5 537.8 L1415.3 548.5 L1400.0 548.5Z" fill="url(#ogr)"/><path d="M1401.0 504.0 L1416.3 504.0 L1415.0 498.3 L1400.3 498.3Z" fill="#ffce72"/>
<path d="M1440.6 461.4 L1439.7 462.4 L1437.2 547.3 L1438.4 548.5Z" fill="#57c400"/><path d="M1440.6 461.4 L1456.2 461.4 L1454.0 545.8 L1438.5 545.8Z" fill="#68dc0a"/><path d="M1438.5 545.3 L1454.0 545.3 L1453.9 548.5 L1438.4 548.5Z" fill="#5fcc06"/><path d="M1440.6 461.7 L1456.2 461.7 L1454.7 456.0 L1439.8 456.0Z" fill="#79e61e"/>
<path d="M1456.8 481.6 L1455.9 482.6 L1453.8 547.3 L1455.0 548.5Z" fill="#ee8a40"/><path d="M1456.8 481.6 L1472.2 481.6 L1471.9 491.0 L1456.5 491.0Z" fill="url(#ogy)"/><path d="M1456.5 490.5 L1471.9 490.5 L1471.0 521.9 L1455.7 521.9Z" fill="#ff9a4e"/><path d="M1455.7 521.4 L1471.1 521.4 L1470.6 536.5 L1455.3 536.5Z" fill="#ff6c36"/><path d="M1455.3 536.0 L1470.6 536.0 L1470.3 548.5 L1455.0 548.5Z" fill="#ff4a24"/><path d="M1456.8 481.9 L1472.2 481.9 L1470.6 476.2 L1455.9 476.2Z" fill="#ffce72"/>
<text transform="translate(852.0,564.3) rotate(-45)" x="-37.2" y="0" font-size="12" fill="#5f6368" textLength="37.2" lengthAdjust="spacing">Január</text>
<text transform="translate(907.0,564.3) rotate(-45)" x="-43.5" y="0" font-size="12" fill="#5f6368" textLength="43.5" lengthAdjust="spacing">Február</text>
<text transform="translate(962.0,564.3) rotate(-45)" x="-44.1" y="0" font-size="12" fill="#5f6368" textLength="44.1" lengthAdjust="spacing">Március</text>
<text transform="translate(1017.0,564.3) rotate(-45)" x="-36.5" y="0" font-size="12" fill="#5f6368" textLength="36.5" lengthAdjust="spacing">Április</text>
<text transform="translate(1072.0,564.3) rotate(-45)" x="-33.8" y="0" font-size="12" fill="#5f6368" textLength="33.8" lengthAdjust="spacing">Május</text>
<text transform="translate(1127.0,564.3) rotate(-45)" x="-36.3" y="0" font-size="12" fill="#5f6368" textLength="36.3" lengthAdjust="spacing">Június</text>
<text transform="translate(1181.9,564.3) rotate(-45)" x="-33.4" y="0" font-size="12" fill="#5f6368" textLength="33.4" lengthAdjust="spacing">Július</text>
<text transform="translate(1236.9,564.3) rotate(-45)" x="-59.3" y="0" font-size="12" fill="#5f6368" textLength="59.3" lengthAdjust="spacing">Augusztus</text>
<text transform="translate(1291.9,564.3) rotate(-45)" x="-66.6" y="0" font-size="12" fill="#5f6368" textLength="66.6" lengthAdjust="spacing">Szeptember</text>
<text transform="translate(1346.9,564.3) rotate(-45)" x="-45.0" y="0" font-size="12" fill="#5f6368" textLength="45" lengthAdjust="spacing">Október</text>
<text transform="translate(1401.9,564.3) rotate(-45)" x="-57.5" y="0" font-size="12" fill="#5f6368" textLength="57.5" lengthAdjust="spacing">November</text>
<text transform="translate(1456.9,564.3) rotate(-45)" x="-57.5" y="0" font-size="12" fill="#5f6368" textLength="57.5" lengthAdjust="spacing">December</text>
</svg>
<div class="blur" style="left:775px;top:285px;width:32px;height:7.5px;background:#dbdbdb;filter:blur(1.1px)"></div>
<div class="blur" style="left:775px;top:338.2px;width:32px;height:7.5px;background:#dbdbdb;filter:blur(1.1px)"></div>
<div class="blur" style="left:775px;top:389.2px;width:32px;height:7.5px;background:#dbdbdb;filter:blur(1.1px)"></div>
<div class="blur" style="left:775px;top:441.2px;width:32px;height:7.5px;background:#dbdbdb;filter:blur(1.1px)"></div>
<div class="blur" style="left:775px;top:492.2px;width:32px;height:7.5px;background:#dbdbdb;filter:blur(1.1px)"></div>
<div class="blur" style="left:775px;top:543.2px;width:32px;height:7.5px;background:#dbdbdb;filter:blur(1.1px)"></div>
<!-- pie charts -->
<svg style="left:230px;top:625px" width="330" height="305" viewBox="230 625 330 305">
<text x="354.6" y="645.9" font-size="18.5" fill="#2f3336" textLength="81" lengthAdjust="spacing">Bevételek</text>
<path d="M394.80 786.80 L394.80 651.50 A135.30 135.30 0 1 1 345.65 660.74 Z" fill="#5385bf" stroke="#fff" stroke-width="1.3" stroke-linejoin="round"/><path d="M394.80 786.80 L345.65 660.74 A135.30 135.30 0 0 1 394.80 651.50 Z" fill="#a98c30" stroke="#fff" stroke-width="1.3" stroke-linejoin="round"/>
</svg>
<svg style="left:970px;top:625px" width="330" height="305" viewBox="970 625 330 305">
<text x="1032" y="645.9" font-size="18.5" fill="#2f3336" textLength="202" lengthAdjust="spacing">Költségek, ráfordítások</text>
<path d="M1133.10 786.90 L1133.10 651.60 A135.30 135.30 0 0 1 1191.35 664.78 Z" fill="#5385bf" stroke="#fff" stroke-width="1.3" stroke-linejoin="round"/><path d="M1133.10 786.90 L1191.35 664.78 A135.30 135.30 0 0 1 1253.87 725.90 Z" fill="#a98c30" stroke="#fff" stroke-width="1.3" stroke-linejoin="round"/><path d="M1133.10 786.90 L1253.87 725.90 A135.30 135.30 0 0 1 1259.41 738.41 Z" fill="#5f9b85" stroke="#fff" stroke-width="1.3" stroke-linejoin="round"/><path d="M1133.10 786.90 L1259.41 738.41 A135.30 135.30 0 1 1 997.99 793.98 Z" fill="#931a36" stroke="#fff" stroke-width="1.3" stroke-linejoin="round"/><path d="M1133.10 786.90 L997.99 793.98 A135.30 135.30 0 0 1 997.90 792.09 Z" fill="#fdb813" stroke="#fff" stroke-width="1.3" stroke-linejoin="round"/><path d="M1133.10 786.90 L997.90 792.09 A135.30 135.30 0 0 1 1003.11 749.38 Z" fill="#86a033" stroke="#fff" stroke-width="1.3" stroke-linejoin="round"/><path d="M1133.10 786.90 L1003.11 749.38 A135.30 135.30 0 0 1 1037.93 690.73 Z" fill="#624a30" stroke="#fff" stroke-width="1.3" stroke-linejoin="round"/><path d="M1133.10 786.90 L1037.93 690.73 A135.30 135.30 0 0 1 1108.44 653.87 Z" fill="#00506e" stroke="#fff" stroke-width="1.3" stroke-linejoin="round"/><path d="M1133.10 786.90 L1108.44 653.87 A135.30 135.30 0 0 1 1112.40 653.19 Z" fill="#443266" stroke="#fff" stroke-width="1.3" stroke-linejoin="round"/><path d="M1133.10 786.90 L1112.40 653.19 A135.30 135.30 0 0 1 1133.10 651.60 Z" fill="#cc6a28" stroke="#fff" stroke-width="1.3" stroke-linejoin="round"/>
</svg>
<!-- legends -->
<div class="abs" style="left:0;top:0;width:1521px;height:1009px;overflow:hidden"><div class="abs" style="left:64px;top:966px;width:16px;height:12px;background:#5385bf"></div>
<svg style="left:91.6px;top:965.8px" width="14" height="15" viewBox="0 0 14 15"><rect x="1.6" y="0.5" width="11.6" height="13.6" fill="#f1f1f3" stroke="#c9c4c4" stroke-width="0.8"/><rect x="0.3" y="0.2" width="2.5" height="14.2" rx="0.8" fill="#c9683f"/><path d="M0.3 2.2 H2.8 M0.3 4.4 H2.8 M0.3 6.6 H2.8 M0.3 8.8 H2.8 M0.3 11 H2.8 M0.3 13 H2.8" stroke="#e8a27c" stroke-width="0.6"/><rect x="5.2" y="4" width="5.6" height="8.6" fill="#b9cdf3"/><rect x="5.2" y="4" width="5.6" height="2.4" fill="#7aa2ea"/><path d="M13.3 11.6 V14.2 H10.6Z" fill="#d9935a"/></svg>
<span style="position:absolute;white-space:pre;left:108.70px;top:968.13px;font-size:10px;line-height:10px;font-weight:400;color:#2e2e2e;transform:scaleX(0.9224);transform-origin:0 0;-webkit-text-stroke:0.5px #2e2e2e;">91 BELFÖLDI ÉRTÉKESÍTÉS ÁRBEVÉTELE:</span>
<div class="blur" style="left:323px;top:969px;width:57px;height:7px;background:linear-gradient(90deg,#c4c4c4,#979797 30%,#a4a4a4 55%,#b8b8b8 75%,#d2d2d2);filter:blur(1.1px)"></div>
<div class="abs" style="left:64px;top:982px;width:16px;height:12px;background:#5f9b85"></div>
<svg style="left:91.6px;top:981.8px" width="14" height="15" viewBox="0 0 14 15"><rect x="1.6" y="0.5" width="11.6" height="13.6" fill="#f1f1f3" stroke="#c9c4c4" stroke-width="0.8"/><rect x="0.3" y="0.2" width="2.5" height="14.2" rx="0.8" fill="#c9683f"/><path d="M0.3 2.2 H2.8 M0.3 4.4 H2.8 M0.3 6.6 H2.8 M0.3 8.8 H2.8 M0.3 11 H2.8 M0.3 13 H2.8" stroke="#e8a27c" stroke-width="0.6"/><rect x="5.2" y="4" width="5.6" height="8.6" fill="#b9cdf3"/><rect x="5.2" y="4" width="5.6" height="2.4" fill="#7aa2ea"/><path d="M13.3 11.6 V14.2 H10.6Z" fill="#d9935a"/></svg>
<span style="position:absolute;white-space:pre;left:108.70px;top:984.13px;font-size:10px;line-height:10px;font-weight:400;color:#2e2e2e;transform:scaleX(0.9411);transform-origin:0 0;-webkit-text-stroke:0.5px #2e2e2e;">97 PÉNZÜGYI MŰVELETEK BEVÉTELEI:</span>
<div class="blur" style="left:333px;top:985px;width:47px;height:7px;background:linear-gradient(90deg,#c4c4c4,#979797 30%,#a4a4a4 55%,#b8b8b8 75%,#d2d2d2);filter:blur(1.1px)"></div>
<div class="abs" style="left:405.2px;top:966px;width:16px;height:12px;background:#a98c30"></div>
<svg style="left:432.8px;top:965.8px" width="14" height="15" viewBox="0 0 14 15"><rect x="1.6" y="0.5" width="11.6" height="13.6" fill="#f1f1f3" stroke="#c9c4c4" stroke-width="0.8"/><rect x="0.3" y="0.2" width="2.5" height="14.2" rx="0.8" fill="#c9683f"/><path d="M0.3 2.2 H2.8 M0.3 4.4 H2.8 M0.3 6.6 H2.8 M0.3 8.8 H2.8 M0.3 11 H2.8 M0.3 13 H2.8" stroke="#e8a27c" stroke-width="0.6"/><rect x="5.2" y="4" width="5.6" height="8.6" fill="#b9cdf3"/><rect x="5.2" y="4" width="5.6" height="2.4" fill="#7aa2ea"/><path d="M13.3 11.6 V14.2 H10.6Z" fill="#d9935a"/></svg>
<span style="position:absolute;white-space:pre;left:449.90px;top:968.13px;font-size:10px;line-height:10px;font-weight:400;color:#2e2e2e;transform:scaleX(0.9226);transform-origin:0 0;-webkit-text-stroke:0.5px #2e2e2e;">92 EGYÉB ÁRBEVÉTEL:</span>
<div class="blur" style="left:670px;top:969px;width:55.6px;height:7px;background:linear-gradient(90deg,#c4c4c4,#979797 30%,#a4a4a4 55%,#b8b8b8 75%,#d2d2d2);filter:blur(1.1px)"></div>
<div class="abs" style="left:802px;top:933.2px;width:16px;height:12px;background:#5385bf"></div>
<svg style="left:829.6px;top:933px" width="14" height="15" viewBox="0 0 14 15"><rect x="1.6" y="0.5" width="11.6" height="13.6" fill="#f1f1f3" stroke="#c9c4c4" stroke-width="0.8"/><rect x="0.3" y="0.2" width="2.5" height="14.2" rx="0.8" fill="#c9683f"/><path d="M0.3 2.2 H2.8 M0.3 4.4 H2.8 M0.3 6.6 H2.8 M0.3 8.8 H2.8 M0.3 11 H2.8 M0.3 13 H2.8" stroke="#e8a27c" stroke-width="0.6"/><rect x="5.2" y="4" width="5.6" height="8.6" fill="#b9cdf3"/><rect x="5.2" y="4" width="5.6" height="2.4" fill="#7aa2ea"/><path d="M13.3 11.6 V14.2 H10.6Z" fill="#d9935a"/></svg>
<span style="position:absolute;white-space:pre;left:846.70px;top:935.34px;font-size:10px;line-height:10px;font-weight:400;color:#2e2e2e;transform:scaleX(0.9939);transform-origin:0 0;-webkit-text-stroke:0.5px #2e2e2e;">51 ANYAGKÖLTSÉG:</span>
<div class="blur" style="left:1066px;top:936.2px;width:54px;height:7px;background:linear-gradient(90deg,#c4c4c4,#979797 30%,#a4a4a4 55%,#b8b8b8 75%,#d2d2d2);filter:blur(1.1px)"></div>
<div class="abs" style="left:802px;top:964.2px;width:16px;height:12px;background:#5f9b85"></div>
<svg style="left:829.6px;top:964px" width="14" height="15" viewBox="0 0 14 15"><rect x="1.6" y="0.5" width="11.6" height="13.6" fill="#f1f1f3" stroke="#c9c4c4" stroke-width="0.8"/><rect x="0.3" y="0.2" width="2.5" height="14.2" rx="0.8" fill="#c9683f"/><path d="M0.3 2.2 H2.8 M0.3 4.4 H2.8 M0.3 6.6 H2.8 M0.3 8.8 H2.8 M0.3 11 H2.8 M0.3 13 H2.8" stroke="#e8a27c" stroke-width="0.6"/><rect x="5.2" y="4" width="5.6" height="8.6" fill="#b9cdf3"/><rect x="5.2" y="4" width="5.6" height="2.4" fill="#7aa2ea"/><path d="M13.3 11.6 V14.2 H10.6Z" fill="#d9935a"/></svg>
<span style="position:absolute;white-space:pre;left:846.70px;top:966.34px;font-size:10px;line-height:10px;font-weight:400;color:#2e2e2e;transform:scaleX(0.9684);transform-origin:0 0;-webkit-text-stroke:0.5px #2e2e2e;">53 EGYÉB SZOLGÁLTATÁSOK KÖLTSÉGEI:</span>
<div class="blur" style="left:1066px;top:967.2px;width:54px;height:7px;background:linear-gradient(90deg,#c4c4c4,#979797 30%,#a4a4a4 55%,#b8b8b8 75%,#d2d2d2);filter:blur(1.1px)"></div>
<div class="abs" style="left:802px;top:980.2px;width:16px;height:12px;background:#fdb813"></div>
<svg style="left:829.6px;top:980px" width="14" height="15" viewBox="0 0 14 15"><rect x="1.6" y="0.5" width="11.6" height="13.6" fill="#f1f1f3" stroke="#c9c4c4" stroke-width="0.8"/><rect x="0.3" y="0.2" width="2.5" height="14.2" rx="0.8" fill="#c9683f"/><path d="M0.3 2.2 H2.8 M0.3 4.4 H2.8 M0.3 6.6 H2.8 M0.3 8.8 H2.8 M0.3 11 H2.8 M0.3 13 H2.8" stroke="#e8a27c" stroke-width="0.6"/><rect x="5.2" y="4" width="5.6" height="8.6" fill="#b9cdf3"/><rect x="5.2" y="4" width="5.6" height="2.4" fill="#7aa2ea"/><path d="M13.3 11.6 V14.2 H10.6Z" fill="#d9935a"/></svg>
<span style="position:absolute;white-space:pre;left:846.70px;top:982.34px;font-size:10px;line-height:10px;font-weight:400;color:#2e2e2e;transform:scaleX(0.9217);transform-origin:0 0;-webkit-text-stroke:0.5px #2e2e2e;">55 SZEMÉLYI JELLEGŰ EGYÉB KIFIZETÉSEK:</span>
<div class="blur" style="left:1066px;top:983.2px;width:54px;height:7px;background:linear-gradient(90deg,#c4c4c4,#979797 30%,#a4a4a4 55%,#b8b8b8 75%,#d2d2d2);filter:blur(1.1px)"></div>
<div class="abs" style="left:802px;top:996.2px;width:16px;height:12px;background:#624a30"></div>
<svg style="left:829.6px;top:996px" width="14" height="15" viewBox="0 0 14 15"><rect x="1.6" y="0.5" width="11.6" height="13.6" fill="#f1f1f3" stroke="#c9c4c4" stroke-width="0.8"/><rect x="0.3" y="0.2" width="2.5" height="14.2" rx="0.8" fill="#c9683f"/><path d="M0.3 2.2 H2.8 M0.3 4.4 H2.8 M0.3 6.6 H2.8 M0.3 8.8 H2.8 M0.3 11 H2.8 M0.3 13 H2.8" stroke="#e8a27c" stroke-width="0.6"/><rect x="5.2" y="4" width="5.6" height="8.6" fill="#b9cdf3"/><rect x="5.2" y="4" width="5.6" height="2.4" fill="#7aa2ea"/><path d="M13.3 11.6 V14.2 H10.6Z" fill="#d9935a"/></svg>
<span style="position:absolute;white-space:pre;left:846.70px;top:998.34px;font-size:10px;line-height:10px;font-weight:400;color:#2e2e2e;transform:scaleX(0.9287);transform-origin:0 0;-webkit-text-stroke:0.5px #2e2e2e;">57 ÉRTÉKCSÖKKENÉSI LEÍRÁS:</span>
<div class="blur" style="left:1066px;top:999.2px;width:54px;height:7px;background:linear-gradient(90deg,#c4c4c4,#979797 30%,#a4a4a4 55%,#b8b8b8 75%,#d2d2d2);filter:blur(1.1px)"></div>
<div class="abs" style="left:1143px;top:933.2px;width:16px;height:12px;background:#a98c30"></div>
<svg style="left:1170.6px;top:933px" width="14" height="15" viewBox="0 0 14 15"><rect x="1.6" y="0.5" width="11.6" height="13.6" fill="#f1f1f3" stroke="#c9c4c4" stroke-width="0.8"/><rect x="0.3" y="0.2" width="2.5" height="14.2" rx="0.8" fill="#c9683f"/><path d="M0.3 2.2 H2.8 M0.3 4.4 H2.8 M0.3 6.6 H2.8 M0.3 8.8 H2.8 M0.3 11 H2.8 M0.3 13 H2.8" stroke="#e8a27c" stroke-width="0.6"/><rect x="5.2" y="4" width="5.6" height="8.6" fill="#b9cdf3"/><rect x="5.2" y="4" width="5.6" height="2.4" fill="#7aa2ea"/><path d="M13.3 11.6 V14.2 H10.6Z" fill="#d9935a"/></svg>
<span style="position:absolute;white-space:pre;left:1187.70px;top:935.34px;font-size:10px;line-height:10px;font-weight:400;color:#2e2e2e;transform:scaleX(0.9728);transform-origin:0 0;-webkit-text-stroke:0.5px #2e2e2e;">52 IGÉNYBE VETT SZOLGÁLTATÁSOK KÖLTSÉGEI:</span>
<div class="blur" style="left:1401px;top:951.9px;width:62px;height:7px;background:linear-gradient(90deg,#c4c4c4,#979797 30%,#a4a4a4 55%,#b8b8b8 75%,#d2d2d2);filter:blur(1.1px)"></div>
<div class="abs" style="left:1143px;top:964.2px;width:16px;height:12px;background:#931a36"></div>
<svg style="left:1170.6px;top:964px" width="14" height="15" viewBox="0 0 14 15"><rect x="1.6" y="0.5" width="11.6" height="13.6" fill="#f1f1f3" stroke="#c9c4c4" stroke-width="0.8"/><rect x="0.3" y="0.2" width="2.5" height="14.2" rx="0.8" fill="#c9683f"/><path d="M0.3 2.2 H2.8 M0.3 4.4 H2.8 M0.3 6.6 H2.8 M0.3 8.8 H2.8 M0.3 11 H2.8 M0.3 13 H2.8" stroke="#e8a27c" stroke-width="0.6"/><rect x="5.2" y="4" width="5.6" height="8.6" fill="#b9cdf3"/><rect x="5.2" y="4" width="5.6" height="2.4" fill="#7aa2ea"/><path d="M13.3 11.6 V14.2 H10.6Z" fill="#d9935a"/></svg>
<span style="position:absolute;white-space:pre;left:1187.70px;top:966.34px;font-size:10px;line-height:10px;font-weight:400;color:#2e2e2e;transform:scaleX(0.9373);transform-origin:0 0;-webkit-text-stroke:0.5px #2e2e2e;">54 BÉRKÖLTSÉG:</span>
<div class="blur" style="left:1401px;top:967.2px;width:62px;height:7px;background:linear-gradient(90deg,#c4c4c4,#979797 30%,#a4a4a4 55%,#b8b8b8 75%,#d2d2d2);filter:blur(1.1px)"></div>
<div class="abs" style="left:1143px;top:980.2px;width:16px;height:12px;background:#86a033"></div>
<svg style="left:1170.6px;top:980px" width="14" height="15" viewBox="0 0 14 15"><rect x="1.6" y="0.5" width="11.6" height="13.6" fill="#f1f1f3" stroke="#c9c4c4" stroke-width="0.8"/><rect x="0.3" y="0.2" width="2.5" height="14.2" rx="0.8" fill="#c9683f"/><path d="M0.3 2.2 H2.8 M0.3 4.4 H2.8 M0.3 6.6 H2.8 M0.3 8.8 H2.8 M0.3 11 H2.8 M0.3 13 H2.8" stroke="#e8a27c" stroke-width="0.6"/><rect x="5.2" y="4" width="5.6" height="8.6" fill="#b9cdf3"/><rect x="5.2" y="4" width="5.6" height="2.4" fill="#7aa2ea"/><path d="M13.3 11.6 V14.2 H10.6Z" fill="#d9935a"/></svg>
<span style="position:absolute;white-space:pre;left:1187.70px;top:982.34px;font-size:10px;line-height:10px;font-weight:400;color:#2e2e2e;transform:scaleX(0.9326);transform-origin:0 0;-webkit-text-stroke:0.5px #2e2e2e;">56 BÉRJÁRULÉKOK:</span>
<div class="blur" style="left:1401px;top:983.2px;width:62px;height:7px;background:linear-gradient(90deg,#c4c4c4,#979797 30%,#a4a4a4 55%,#b8b8b8 75%,#d2d2d2);filter:blur(1.1px)"></div>
<div class="abs" style="left:1143px;top:996.2px;width:16px;height:12px;background:#00506e"></div>
<svg style="left:1170.6px;top:996px" width="14" height="15" viewBox="0 0 14 15"><rect x="1.6" y="0.5" width="11.6" height="13.6" fill="#f1f1f3" stroke="#c9c4c4" stroke-width="0.8"/><rect x="0.3" y="0.2" width="2.5" height="14.2" rx="0.8" fill="#c9683f"/><path d="M0.3 2.2 H2.8 M0.3 4.4 H2.8 M0.3 6.6 H2.8 M0.3 8.8 H2.8 M0.3 11 H2.8 M0.3 13 H2.8" stroke="#e8a27c" stroke-width="0.6"/><rect x="5.2" y="4" width="5.6" height="8.6" fill="#b9cdf3"/><rect x="5.2" y="4" width="5.6" height="2.4" fill="#7aa2ea"/><path d="M13.3 11.6 V14.2 H10.6Z" fill="#d9935a"/></svg>
<span style="position:absolute;white-space:pre;left:1187.70px;top:998.34px;font-size:10px;line-height:10px;font-weight:400;color:#2e2e2e;transform:scaleX(0.9635);transform-origin:0 0;-webkit-text-stroke:0.5px #2e2e2e;">81 ANYAGJELLEGŰ RÁFORDÍTÁSOK:</span>
<div class="blur" style="left:1401px;top:999.2px;width:62px;height:7px;background:linear-gradient(90deg,#c4c4c4,#979797 30%,#a4a4a4 55%,#b8b8b8 75%,#d2d2d2);filter:blur(1.1px)"></div></div>
</body></html>
